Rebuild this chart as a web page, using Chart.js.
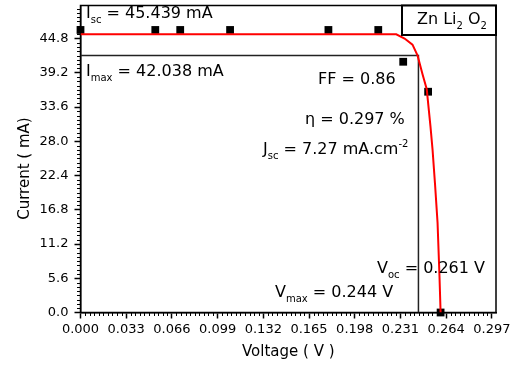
<!DOCTYPE html>
<html>
<head>
<meta charset="utf-8">
<script src="https://cdn.jsdelivr.net/npm/chart.js@4.4.1/dist/chart.umd.min.js"></script>
<style>
  html, body { margin: 0; padding: 0; background: #fff; }
  canvas { display: block; }
</style>
</head>
<body>
<canvas id="iv" width="512" height="371"></canvas>
<script>
// measured points (black squares)
const measV = [0.000, 0.054, 0.072, 0.108, 0.179, 0.215, 0.233, 0.251, 0.260];
const measI = [46.2, 46.2, 46.2, 46.2, 46.2, 46.2, 41.0, 36.1, 0.0];

// fitted curve (red line)
const fitV = [0.000, 0.228, 0.234, 0.2397, 0.2434, 0.247, 0.250, 0.2527, 0.2542, 0.256, 0.2578, 0.2592, 0.260];
const fitI = [45.5, 45.5, 44.8, 43.8, 42.0, 38.9, 36.5, 30.4, 26.6, 20.9, 14.7, 5.9, 0.0];

// max power point
const vMax = 0.244;
const iMax = 42.038;

const xTicks = [0, 0.033, 0.066, 0.099, 0.132, 0.165, 0.198, 0.231, 0.264, 0.297];
const yTicks = [0, 5.6, 11.2, 16.8, 22.4, 28.0, 33.6, 39.2, 44.8];

const FONT = "DejaVu Sans";

function zip(xs, ys) {
  return xs.map((x, i) => ({x: x, y: ys[i]}));
}

// text with sub/superscripts: parts = [[text, kind]]
function richText(ctx, x, y, parts, size) {
  ctx.save();
  ctx.fillStyle = "#000";
  ctx.textBaseline = "middle";
  ctx.textAlign = "left";
  let cx = x;
  parts.forEach(p => {
    let t = p[0], kind = p[1];
    let dy = 0;
    if (kind == "sub") { ctx.font = "10px " + FONT; dy = 6; }
    else if (kind == "sup") { ctx.font = "10px " + FONT; dy = -6; }
    else { ctx.font = size + "px " + FONT; }
    ctx.fillText(t, cx, y + dy);
    cx += ctx.measureText(t).width;
  });
  ctx.restore();
}

const labels = [
  {x: 86, y: 14, parts: [["I", ""], ["sc", "sub"], [" = 45.439 mA", ""]]},
  {x: 86, y: 72, parts: [["I", ""], ["max", "sub"], [" = 42.038 mA", ""]]},
  {x: 318, y: 80, parts: [["FF = 0.86", ""]]},
  {x: 305, y: 120, parts: [["\u03b7 = 0.297 %", ""]]},
  {x: 263, y: 150, parts: [["J", ""], ["sc", "sub"], [" = 7.27 mA.cm", ""], ["-2", "sup"]]},
  {x: 377, y: 269, parts: [["V", ""], ["oc", "sub"], [" = 0.261 V", ""]]},
  {x: 275, y: 293, parts: [["V", ""], ["max", "sub"], [" = 0.244 V", ""]]}
];

const decor = {
  id: "decor",
  beforeDatasetsDraw(chart) {
    const ctx = chart.ctx, a = chart.chartArea;
    ctx.save();
    ctx.strokeStyle = "#000";
    ctx.lineWidth = 1.5;
    ctx.strokeRect(a.left, a.top, a.right - a.left, a.bottom - a.top);
    // minor ticks
    ctx.lineWidth = 1;
    const xs = chart.scales.x, ys = chart.scales.y;
    ctx.beginPath();
    for (let i = 0; i <= 90; i++) {
      if (i % 10 == 0) continue;
      const px = Math.round(xs.getPixelForValue(i * 0.0033)) + 0.5;
      ctx.moveTo(px, a.bottom);
      ctx.lineTo(px, a.bottom + 3.5);
    }
    for (let i = 0; i <= 71; i++) {
      if (i % 8 == 0) continue;
      const py = Math.round(ys.getPixelForValue(i * 0.7)) + 0.5;
      ctx.moveTo(a.left, py);
      ctx.lineTo(a.left - 3.5, py);
    }
    ctx.stroke();
    ctx.restore();
  },
  afterDatasetsDraw(chart) {
    const ctx = chart.ctx, a = chart.chartArea;
    labels.forEach(l => richText(ctx, l.x, l.y, l.parts, 16));
    // legend box
    ctx.save();
    ctx.fillStyle = "#fff";
    ctx.strokeStyle = "#000";
    ctx.lineWidth = 2;
    ctx.fillRect(402, a.top, a.right - 402, 35 - a.top);
    ctx.strokeRect(402, a.top, a.right - 402, 35 - a.top);
    ctx.restore();
    richText(ctx, 417, 20, [["Zn Li", ""], ["2", "sub"], [" O", ""], ["2", "sub"]], 16);
  }
};

new Chart(document.getElementById("iv"), {
  type: "scatter",
  data: {
    datasets: [
      {
        label: "fit",
        data: zip(fitV, fitI),
        showLine: true,
        borderColor: "#ff0000",
        borderWidth: 2,
        pointRadius: 0,
        order: 0
      },
      {
        label: "Zn Li2 O2",
        data: zip(measV, measI),
        pointStyle: "rect",
        pointRadius: 5.5,
        backgroundColor: "#000",
        borderColor: "#000",
        borderWidth: 0,
        clip: false,
        order: 1
      },
      {
        label: "Pmax",
        data: [{x: 0, y: iMax}, {x: vMax, y: iMax}, {x: vMax, y: 0}],
        showLine: true,
        borderColor: "#222",
        borderWidth: 1.5,
        pointRadius: 0,
        order: 2
      }
    ]
  },
  options: {
    responsive: false,
    devicePixelRatio: 1,
    animation: false,
    layout: { padding: { top: 5.5, right: 16, left: 0, bottom: 0 } },
    plugins: { legend: { display: false }, tooltip: { enabled: false } },
    scales: {
      x: {
        type: "linear",
        min: 0,
        max: 0.3,
        afterBuildTicks: s => { s.ticks = xTicks.map(v => ({value: v})); },
        afterFit: s => { s.height = 58.5; s.paddingLeft = 0; s.paddingRight = 0; },
        grid: { drawOnChartArea: false, tickLength: 6, tickColor: "#000", tickWidth: 1.5 },
        border: { color: "#000", width: 1.5 },
        ticks: {
          autoSkip: false,
          maxRotation: 0,
          padding: 3,
          color: "#000",
          font: { family: FONT, size: 13 },
          callback: v => v.toFixed(3)
        },
        title: {
          display: true,
          text: "Voltage ( V )",
          color: "#000",
          font: { family: FONT, size: 15 },
          padding: { top: 0, bottom: 10 }
        }
      },
      y: {
        type: "linear",
        min: 0,
        max: 50.2,
        afterBuildTicks: s => { s.ticks = yTicks.map(v => ({value: v})); },
        afterFit: s => { s.width = 80.5; s.paddingTop = 0; s.paddingBottom = 0; },
        grid: { drawOnChartArea: false, tickLength: 6, tickColor: "#000", tickWidth: 1.5 },
        border: { color: "#000", width: 1.5 },
        ticks: {
          autoSkip: false,
          padding: 6,
          color: "#000",
          font: { family: FONT, size: 13 },
          callback: v => v.toFixed(1)
        },
        title: {
          display: true,
          text: "Current ( mA)    ",
          color: "#000",
          font: { family: FONT, size: 15 },
          padding: { top: 16, bottom: 0 }
        }
      }
    }
  },
  plugins: [decor]
});
</script>
</body>
</html>
